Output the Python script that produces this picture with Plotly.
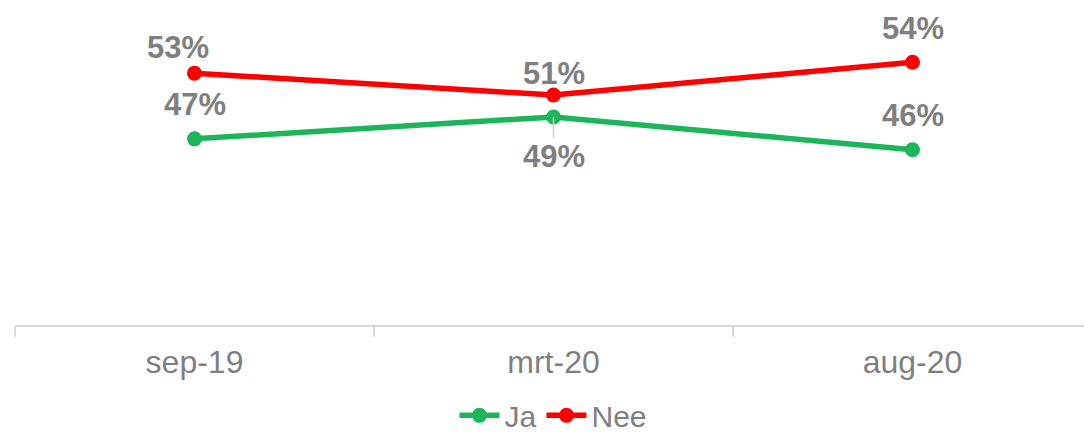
import plotly.graph_objects as go

categories = ["sep-19", "mrt-20", "aug-20"]
ja_values = [47, 49, 46]
nee_values = [53, 51, 54]
ja_label_pos = ["above", "below", "above"]
nee_label_pos = ["above", "above", "above"]

GREEN = "#1DB55A"
RED = "#FF0000"
GRAY = "#7F7F7F"
FONT = "Liberation Sans, Arial, sans-serif"

fig = go.Figure()
fig.add_trace(go.Scatter(x=categories, y=ja_values, name="Ja", mode="lines+markers",
                         line=dict(color=GREEN, width=5.5), marker=dict(size=15, color=GREEN)))
fig.add_trace(go.Scatter(x=categories, y=nee_values, name="Nee", mode="lines+markers",
                         line=dict(color=RED, width=5.5), marker=dict(size=15, color=RED)))

annotations = []
for vals, pos in ((nee_values, nee_label_pos), (ja_values, ja_label_pos)):
    for i, (c, v) in enumerate(zip(categories, vals)):
        if pos[i] == "above":
            xshift = -17 if (vals is nee_values and i == 0) else 0
            ay = -26 if (vals is nee_values and i < 2) else -34
            if vals is nee_values and i == 1:
                ay = -22
            annotations.append(dict(x=c, y=v, text=f"{v}%", showarrow=False, yshift=-ay, xshift=xshift,
                                    font=dict(family=FONT, size=31, color=GRAY, weight="bold")))
        else:
            annotations.append(dict(x=c, y=v, text=f"{v}%", showarrow=True, ax=0, ay=40,
                                    arrowhead=0, arrowwidth=1.5, arrowcolor="#D0D0D0", standoff=0,
                                    font=dict(family=FONT, size=31, color=GRAY, weight="bold")))

fig.update_layout(
    width=1084, height=426,
    margin=dict(l=7, r=0, t=0, b=109, autoexpand=False),
    paper_bgcolor="white", plot_bgcolor="white",
    showlegend=True,
    legend=dict(orientation="h", x=0.5, xanchor="center", y=-0.285, yanchor="middle",
                font=dict(family=FONT, size=30, color=GRAY), itemwidth=40),
    annotations=annotations,
    xaxis=dict(type="category", range=[-0.5, 2.5], showgrid=False, zeroline=False,
               showline=True, linecolor="#D9D9D9", linewidth=2,
               ticks="outside", tickson="boundaries", ticklen=10, tickcolor="#D9D9D9", tickwidth=2,
               tickfont=dict(family=FONT, size=32, color=GRAY), ticklabelstandoff=8),
    yaxis=dict(range=[30, 58.95], visible=False, showgrid=False, zeroline=False),
)

fig.write_html("out.html")
